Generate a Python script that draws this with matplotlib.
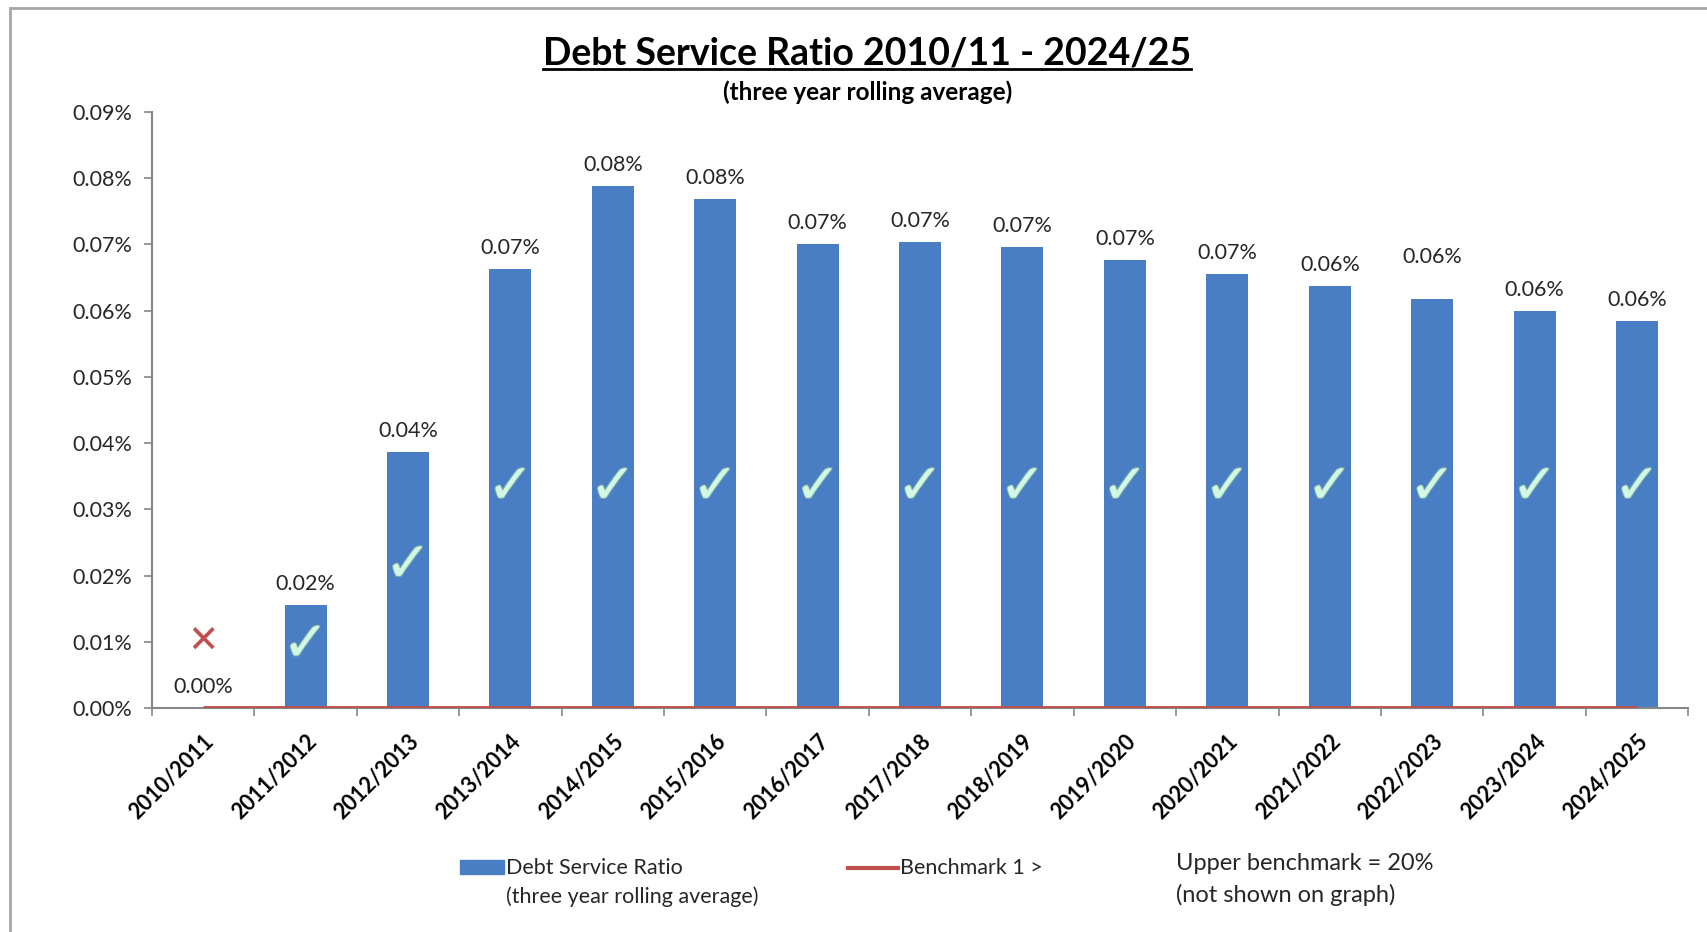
import numpy as np
import matplotlib.pyplot as plt
import matplotlib.patheffects as pe
from matplotlib.patches import Rectangle
from matplotlib.lines import Line2D
from matplotlib.ticker import FuncFormatter, MultipleLocator

years = ['2010/2011', '2011/2012', '2012/2013', '2013/2014', '2014/2015',
         '2015/2016', '2016/2017', '2017/2018', '2018/2019', '2019/2020',
         '2020/2021', '2021/2022', '2022/2023', '2023/2024', '2024/2025']
# debt service ratio, percent
ratio = [0.0, 0.0155, 0.0387, 0.0663, 0.0788, 0.0768, 0.0701, 0.0704,
         0.0696, 0.0676, 0.0656, 0.0637, 0.0618, 0.0600, 0.0584]
benchmark = [0.0] * len(years)
# True = within benchmark
passed = [False] + [True] * 14
mark_y = [0.0099, 0.0094, 0.0214] + [0.0332] * 12

BLUE = '#4a7ec4'
RED = '#c0504d'
TXT = '#262626'

plt.rcParams['font.family'] = ['Lato', 'DejaVu Sans']

fig = plt.figure(figsize=(17.07, 9.32), dpi=100)
ax = fig.add_axes([0.089, 0.2403, 0.900, 0.6395])

x = np.arange(len(years))
ax.bar(x, ratio, width=0.41, color=BLUE, zorder=2)
ax.plot(x, benchmark, color=RED, lw=3.5, zorder=3, solid_capstyle='butt')

# value labels above the bars
for i, v in enumerate(ratio):
    dy = 23 if i == 12 else 8
    ax.annotate(f'{v:.2f}%', (i, v), xytext=(0, dy), textcoords='offset points',
                ha='center', va='bottom', fontsize=15.5, color=TXT)

# pass / fail marks
for i, ok in enumerate(passed):
    if ok:
        ax.text(i, mark_y[i], '\u2713', family='DejaVu Sans', fontsize=40,
                fontweight='bold', color='#d2f7e2', ha='center', va='center',
                zorder=4,
                path_effects=[pe.withStroke(linewidth=1.5, foreground='#7fb3b0')])
    else:
        ax.text(i, mark_y[i], '\u2715', family='DejaVu Sans', fontsize=27,
                fontweight='bold', color=RED, ha='center', va='center', zorder=4)

ax.set_xlim(-0.5, len(years) - 0.5)
ax.set_ylim(0, 0.09)
ax.yaxis.set_major_locator(MultipleLocator(0.01))
ax.yaxis.set_major_formatter(FuncFormatter(lambda v, p: f'{v:.2f}%'))
ax.set_xticks(x)
ax.set_xticklabels(years, rotation=45, ha='right', rotation_mode='anchor',
                   fontsize=15.5, fontweight='bold')
ax.set_xticks(np.arange(-0.5, len(years)), minor=True)
ax.tick_params(axis='x', which='major', length=0, pad=16)
ax.tick_params(axis='x', which='minor', length=6, color='#868686', width=1.2)
ax.tick_params(axis='y', length=6, color='#868686', width=1.2, labelsize=15.5,
               labelcolor=TXT, pad=8)
for s in ['top', 'right']:
    ax.spines[s].set_visible(False)
for s in ['left', 'bottom']:
    ax.spines[s].set_color('#868686')
    ax.spines[s].set_linewidth(1.5)

# chart frame
fig.patches.append(Rectangle((10 / 1707, -0.1), 1.2, 1 - 8 / 932 + 0.1,
                             transform=fig.transFigure, fill=False,
                             edgecolor='#a6a6a6', lw=2))

title = fig.text(0.508, 0.943, 'Debt Service Ratio 2010/11 - 2024/25',
                 ha='center', va='center', fontsize=27, fontweight='bold')
fig.text(0.508, 0.901, '(three year rolling average)', ha='center',
         va='center', fontsize=17.5, fontweight='bold')
fig.canvas.draw()
bb = title.get_window_extent()
fig.add_artist(Line2D([bb.x0, bb.x1], [bb.y0 + 1, bb.y0 + 1],
                      transform=None, color='black', lw=2))

# legend
fig.patches.append(Rectangle((0.2695, 0.062), 0.0255, 0.015,
                             transform=fig.transFigure, color=BLUE))
fig.text(0.2965, 0.069, 'Debt Service Ratio', fontsize=15.5, va='center',
         color=TXT)
fig.text(0.2965, 0.038, '(three year rolling average)', fontsize=15.5,
         va='center', color=TXT)
fig.add_artist(Line2D([0.497, 0.526], [0.069, 0.069],
                      transform=fig.transFigure, color=RED, lw=3))
fig.text(0.527, 0.069, 'Benchmark 1 >', fontsize=15.5, va='center',
         color=TXT)
fig.text(0.689, 0.074, 'Upper benchmark = 20%', fontsize=17, va='center',
         color=TXT)
fig.text(0.689, 0.040, '(not shown on graph)', fontsize=17, va='center',
         color=TXT)

fig.savefig('out.png', dpi=100, facecolor='white')
